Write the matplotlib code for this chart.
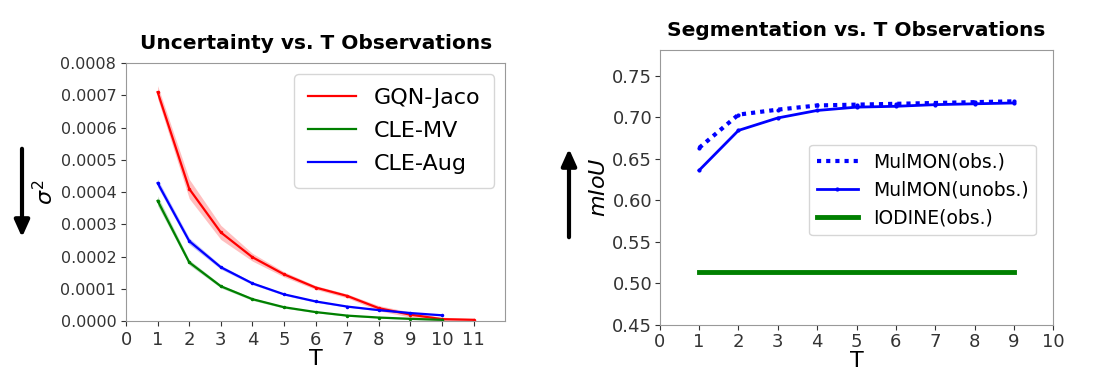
import numpy as np
import matplotlib
matplotlib.use('Agg')
import matplotlib.pyplot as plt

# ========== data ==========
T_gqn = [1, 2, 3, 4, 5, 6, 7, 8, 9, 10, 11]
gqn_jaco = [0.000710, 0.000410, 0.000275, 0.000198, 0.000145, 0.000104, 0.000078, 0.000040, 0.000020, 0.000006, 0.000004]
gqn_err = [0.000020, 0.000030, 0.000022, 0.000012, 0.000008, 0.000006, 0.000006, 0.000008, 0.000008, 0.000006, 0.000004]

T_cle = [1, 2, 3, 4, 5, 6, 7, 8, 9, 10]
cle_mv = [0.000373, 0.000182, 0.000108, 0.000068, 0.000043, 0.000028, 0.000017, 0.000011, 0.000007, 0.000004]
cle_mv_err = [0.000015, 0.000008, 0.000005, 0.000004, 0.000003, 0.000002, 0.000002, 0.000002, 0.000002, 0.000002]
cle_aug = [0.000428, 0.000248, 0.000167, 0.000117, 0.000083, 0.000061, 0.000045, 0.000034, 0.000025, 0.000018]
cle_aug_err = [0.000012, 0.000010, 0.000006, 0.000004, 0.000003, 0.000003, 0.000002, 0.000002, 0.000002, 0.000002]

T_seg = [1, 2, 3, 4, 5, 6, 7, 8, 9]
mulmon_obs = [0.663, 0.703, 0.709, 0.714, 0.715, 0.716, 0.717, 0.718, 0.719]
mulmon_unobs = [0.636, 0.684, 0.699, 0.708, 0.712, 0.713, 0.715, 0.716, 0.717]
iodine_obs = [0.514] * 9

fig = plt.figure(figsize=(10.96, 3.8), dpi=100)

# ========== left: uncertainty ==========
ax1 = fig.add_axes([0.115, 0.155, 0.346, 0.679])
for T, y, e, c, lab in [(T_gqn, gqn_jaco, gqn_err, 'red', 'GQN-Jaco'),
                        (T_cle, cle_mv, cle_mv_err, 'green', 'CLE-MV'),
                        (T_cle, cle_aug, cle_aug_err, 'blue', 'CLE-Aug')]:
    y = np.array(y)
    e = np.array(e)
    ax1.plot(T, y, color=c, lw=1.6, marker='.', ms=3, label=lab)
    ax1.fill_between(T, y - e, y + e, color=c, alpha=0.25, lw=0)
ax1.set_xlim(0, 12)
ax1.set_ylim(0, 0.0008)
ax1.set_xticks(range(0, 12))
ax1.set_yticks(np.arange(0, 0.00081, 0.0001))
ax1.set_yticklabels([f'{v:.4f}' for v in np.arange(0, 0.00081, 0.0001)])
ax1.tick_params(labelsize=11.5, colors='#333333')
ax1.tick_params(axis='x', labelsize=13)
ax1.set_title('Uncertainty vs. T Observations', fontsize=14.5, fontweight='bold', pad=10)
ax1.set_xlabel('T', fontsize=16, labelpad=0)
ax1.set_ylabel(r'$\sigma^2$', fontsize=16, labelpad=2)
leg1 = ax1.legend(loc='upper right', fontsize=16, handlelength=2.2, borderpad=0.6, labelspacing=0.6)
for h in leg1.legend_handles:
    h.set_marker('')
for s in ax1.spines.values():
    s.set_color('#999999')

# ========== right: segmentation ==========
ax2 = fig.add_axes([0.602, 0.145, 0.359, 0.724])
ax2.plot(T_seg, mulmon_obs, color='blue', lw=3, ls=(0, (1, 1.2)), marker='.', ms=4, label='MulMON(obs.)')
ax2.plot(T_seg, mulmon_unobs, color='blue', lw=2, marker='.', ms=4, label='MulMON(unobs.)')
ax2.plot(T_seg, iodine_obs, color='green', lw=3.5, label='IODINE(obs.)')
ax2.set_xlim(0, 10)
ax2.set_ylim(0.45, 0.781)
ax2.set_xticks(range(0, 11))
ax2.set_yticks(np.arange(0.45, 0.751, 0.05))
ax2.set_yticklabels([f'{v:.2f}' for v in np.arange(0.45, 0.751, 0.05)])
ax2.tick_params(labelsize=13, colors='#333333', pad=2)
ax2.set_title('Segmentation vs. T Observations', fontsize=14.5, fontweight='bold', pad=10)
ax2.set_xlabel('T', fontsize=16, labelpad=0)
ax2.set_ylabel(r'$mIoU$', fontsize=16, labelpad=2)
leg2 = ax2.legend(loc='center right', bbox_to_anchor=(0.98, 0.49), fontsize=13.5, handlelength=2.2)
leg2.legend_handles[0].set_marker('')
for s in ax2.spines.values():
    s.set_color('#999999')

# ========== arrows ==========
ax1.annotate('', xy=(22 / 1096, 1 - 240 / 380), xytext=(22 / 1096, 1 - 146 / 380),
             xycoords='figure fraction', textcoords='figure fraction',
             arrowprops=dict(arrowstyle='-|>,head_width=0.45,head_length=1.0', lw=3, color='black'))
ax2.annotate('', xy=(569 / 1096, 1 - 146 / 380), xytext=(569 / 1096, 1 - 240 / 380),
             xycoords='figure fraction', textcoords='figure fraction',
             arrowprops=dict(arrowstyle='-|>,head_width=0.45,head_length=1.0', lw=3, color='black'))

fig.savefig('out.png', dpi=100)
